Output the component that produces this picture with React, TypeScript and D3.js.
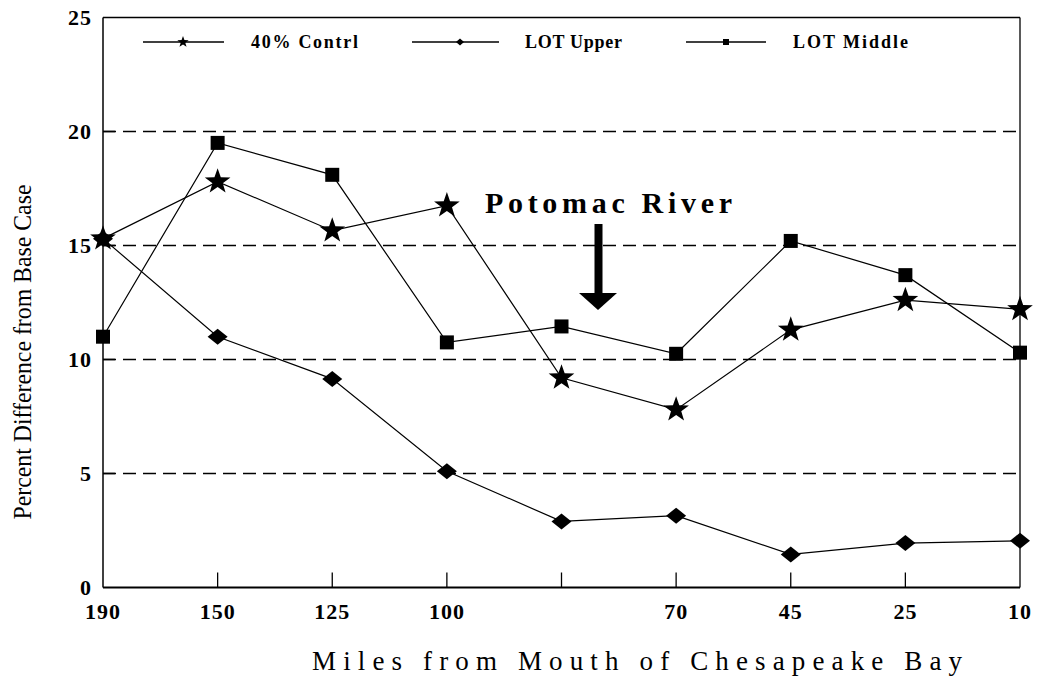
import React from "react";
import * as d3 from "d3";

const xLabels = ["190", "150", "125", "100", "", "70", "45", "25", "10"];
const contrl40 = [15.3, 17.8, 15.65, 16.75, 9.2, 7.8, 11.3, 12.6, 12.2];
const lotUpper = [15.3, 11.0, 9.15, 5.1, 2.9, 3.15, 1.45, 1.95, 2.05];
const lotMiddle = [11.0, 19.5, 18.1, 10.75, 11.45, 10.25, 15.2, 13.7, 10.3];
const yTicks = [0, 5, 10, 15, 20, 25];
const gridTicks = [5, 10, 15, 20];

const W = 1039;
const H = 676;
const FONT = '"Liberation Serif", "DejaVu Serif", "Times New Roman", Times, serif';
const TS: React.CSSProperties = { fontFamily: FONT };

function starPath(cx: number, cy: number, ro: number, ri: number) {
  const pts: [number, number][] = [];
  for (let i = 0; i < 10; i++) {
    const r = i % 2 === 0 ? ro : ri;
    const a = -Math.PI / 2 + (i * Math.PI) / 5;
    pts.push([cx + r * Math.cos(a), cy + r * Math.sin(a)]);
  }
  return "M" + pts.map((p) => p[0].toFixed(2) + "," + p[1].toFixed(2)).join("L") + "Z";
}

function diamondPath(cx: number, cy: number, hw: number, hh: number) {
  return `M${cx},${cy - hh}L${cx + hw},${cy}L${cx},${cy + hh}L${cx - hw},${cy}Z`;
}

export default function App() {
  const idx = d3.range(xLabels.length);
  const x = d3.scalePoint<number>().domain(idx).range([103, 1020]);
  const y = d3.scaleLinear().domain([0, 25]).range([587.5, 17.5]);
  const line = d3
    .line<number>()
    .x((_, i) => x(i) as number)
    .y((d) => y(d));

  const left = x(0) as number;
  const right = x(8) as number;

  return (
    <svg
      width={W}
      height={H}
      style={{ position: "absolute", left: 0, top: 0, background: "#fff", fontFamily: FONT }}
    >
      <rect x={0} y={0} width={W} height={H} fill="#fff" />
      {/* grid */}
      {gridTicks.map((t) => (
        <line
          key={"g" + t}
          x1={left}
          x2={right}
          y1={y(t)}
          y2={y(t)}
          stroke="#000"
          strokeWidth={1.6}
          strokeDasharray="13 7"
        />
      ))}
      {/* frame */}
      <line x1={left} x2={right} y1={y(25)} y2={y(25)} stroke="#000" strokeWidth={1.5} />
      <line x1={right} x2={right} y1={y(25)} y2={y(0)} stroke="#000" strokeWidth={1.3} />
      <line x1={left} x2={left} y1={y(25)} y2={y(0)} stroke="#000" strokeWidth={1.5} />
      <line x1={left} x2={right} y1={y(0)} y2={y(0)} stroke="#000" strokeWidth={2} />
      {/* x ticks */}
      {idx.slice(1, 8).map((i) => (
        <line
          key={"xt" + i}
          x1={x(i) as number}
          x2={x(i) as number}
          y1={y(0)}
          y2={y(0) - 15}
          stroke="#000"
          strokeWidth={1.3}
        />
      ))}
      {/* y ticks */}
      {yTicks.slice(1, 5).map((t) => (
        <line key={"yt" + t} x1={left} x2={left + 12} y1={y(t)} y2={y(t)} stroke="#000" strokeWidth={1.5} />
      ))}
      {/* y tick labels */}
      {yTicks.map((t) => (
        <text
          key={"yl" + t}
          x={92}
          y={y(t) + 7}
          textAnchor="end"
          fontSize={22}
          fontWeight="bold"
          letterSpacing={1}
          style={TS}
        >
          {t}
        </text>
      ))}
      {/* x tick labels */}
      {idx.map((i) => (
        <text
          key={"xl" + i}
          x={x(i) as number}
          y={619}
          textAnchor="middle"
          fontSize={22}
          fontWeight="bold"
          letterSpacing={1}
          style={TS}
        >
          {xLabels[i]}
        </text>
      ))}
      {/* axis titles */}
      <text x={312} y={670} fontSize={27} textLength={650} lengthAdjust="spacing" style={TS}>
        Miles from Mouth of Chesapeake Bay
      </text>
      <text
        transform={`translate(31,352) rotate(-90)`}
        textAnchor="middle"
        fontSize={25}
        textLength={335}
        lengthAdjust="spacingAndGlyphs"
        style={TS}
      >
        Percent Difference from Base Case
      </text>
      {/* series lines */}
      <path d={line(lotUpper) as string} fill="none" stroke="#000" strokeWidth={1.2} />
      <path d={line(lotMiddle) as string} fill="none" stroke="#000" strokeWidth={1.2} />
      <path d={line(contrl40) as string} fill="none" stroke="#000" strokeWidth={1.2} />
      {/* markers */}
      {lotUpper.map((v, i) => (
        <path key={"d" + i} d={diamondPath(x(i) as number, y(v), 10, 8)} fill="#000" />
      ))}
      {lotMiddle.map((v, i) => (
        <rect key={"s" + i} x={(x(i) as number) - 7} y={y(v) - 7} width={14} height={14} fill="#000" />
      ))}
      {contrl40.map((v, i) => (
        <path key={"st" + i} d={starPath(x(i) as number, y(v), 13.5, 5.4)} fill="#000" />
      ))}
      {/* legend */}
      <line x1={143} x2={224} y1={42} y2={42} stroke="#000" strokeWidth={1.3} />
      <path d={starPath(183, 42, 6, 2.4)} fill="#000" />
      <text x={251} y={48} fontSize={18} fontWeight="bold" textLength={107} lengthAdjust="spacing" style={TS}>
        40% Contrl
      </text>
      <line x1={412} x2={499} y1={42} y2={42} stroke="#000" strokeWidth={1.3} />
      <path d={diamondPath(460, 42, 4, 3.5)} fill="#000" />
      <text x={525} y={48} fontSize={18} fontWeight="bold" textLength={97} lengthAdjust="spacing" style={TS}>
        LOT Upper
      </text>
      <line x1={686} x2={766} y1={42} y2={42} stroke="#000" strokeWidth={1.3} />
      <rect x={723} y={39} width={6} height={6} fill="#000" />
      <text x={793} y={48} fontSize={18} fontWeight="bold" textLength={115} lengthAdjust="spacing" style={TS}>
        LOT Middle
      </text>
      {/* annotation */}
      <text x={485} y={213} fontSize={30} fontWeight="bold" textLength={247} lengthAdjust="spacing" style={TS}>
        Potomac River
      </text>
      <rect x={594.5} y={224} width={8} height={70} fill="#000" />
      <path d="M579,293L617,293L598,310Z" fill="#000" />
    </svg>
  );
}
